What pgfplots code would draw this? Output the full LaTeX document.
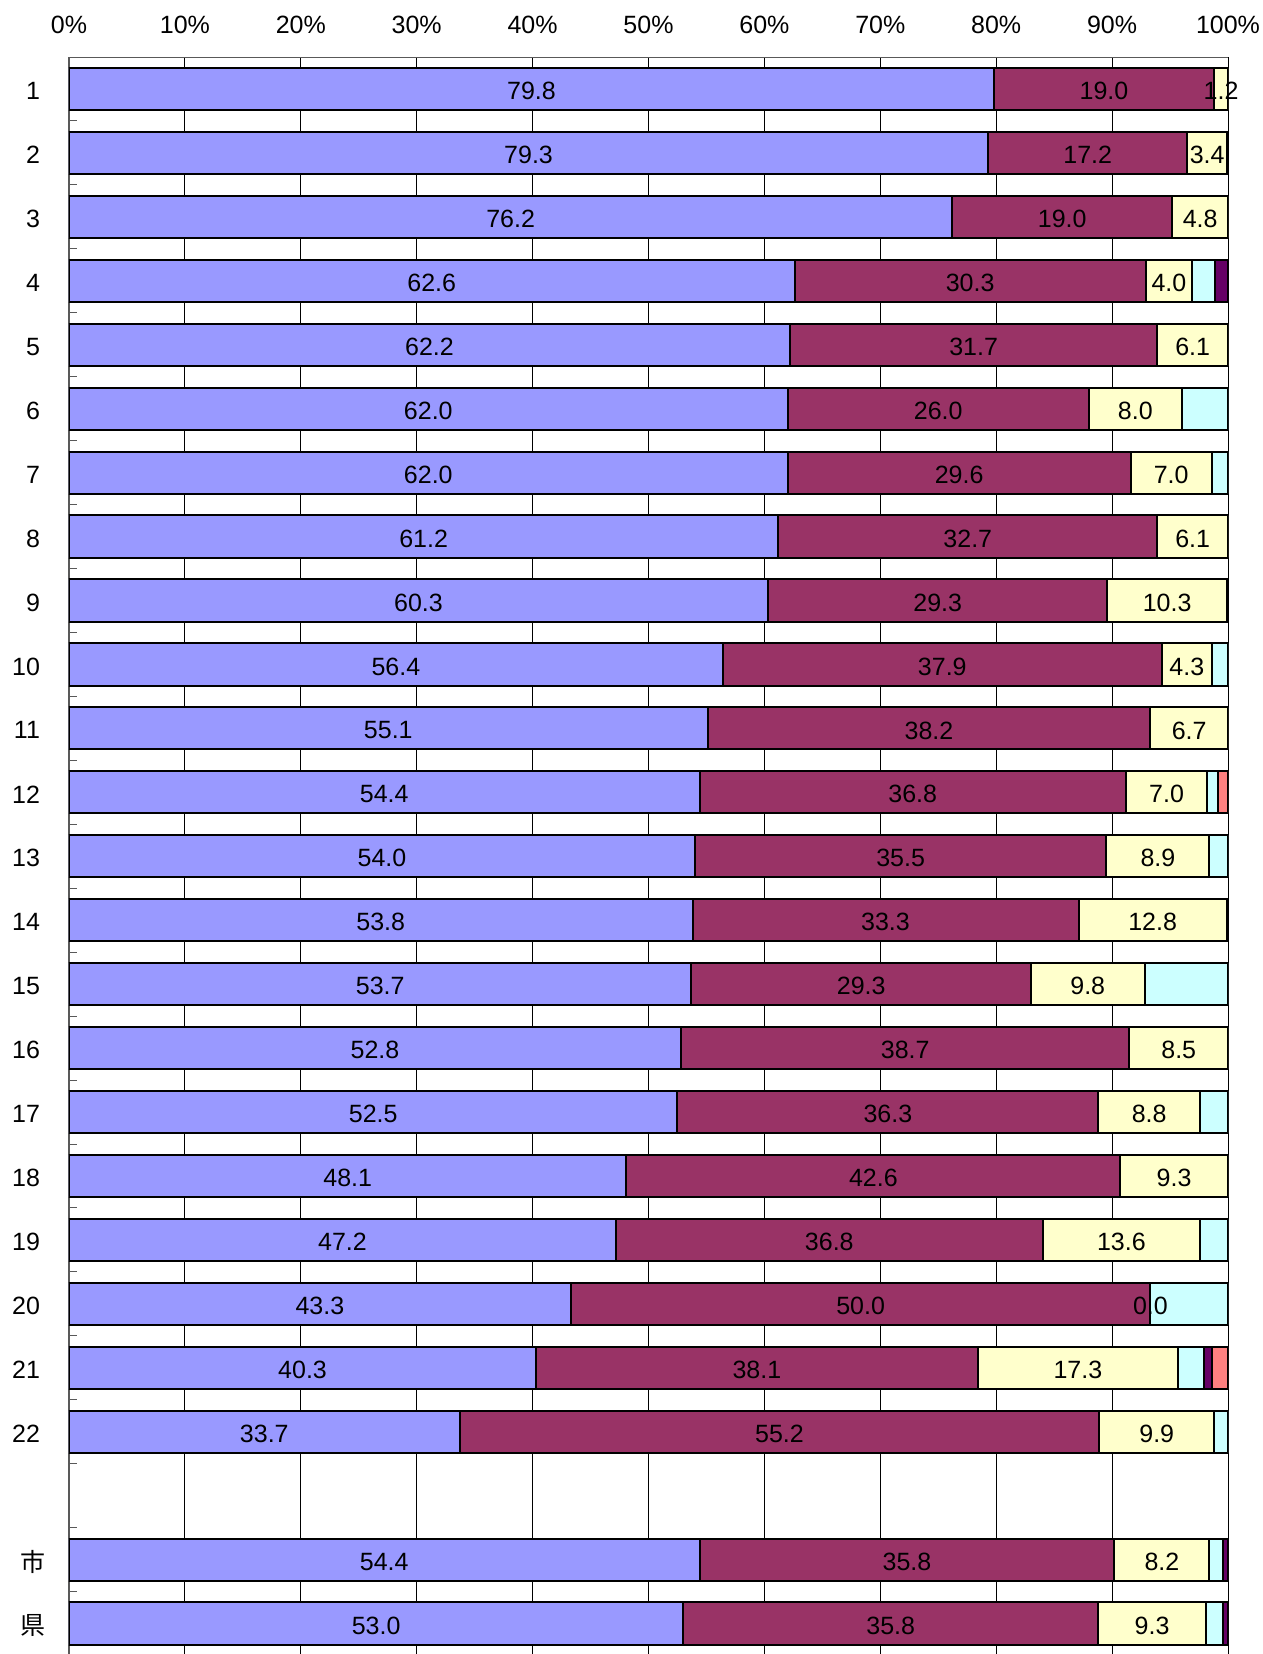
\documentclass[border=0pt]{standalone}
\usepackage{pgfplots}
\usepackage{pgfplotstable}
\usepackage{fontspec}
\pgfplotsset{compat=1.18}
\setmainfont{Liberation Sans}
\newfontfamily\cjk{Noto Sans CJK JP}
\newcommand\lbl{\fontsize{12.5pt}{15pt}\selectfont}

\definecolor{cblue}{HTML}{9999FF}
\definecolor{cmaroon}{HTML}{993366}
\definecolor{cyellow}{HTML}{FFFFCC}
\definecolor{ccyan}{HTML}{CCFFFF}
\definecolor{cpurple}{HTML}{660066}
\definecolor{csalmon}{HTML}{FF8080}

% y = slot (23 is the empty one), a..f = shares in %
\pgfplotstableread{
y  a    b    c    d    e    f
1  79.8 19.0 1.2  0    0    0
2  79.3 17.2 3.4  0    0    0
3  76.2 19.0 4.8  0    0    0
4  62.6 30.3 4.0  2.0  1.1  0
5  62.2 31.7 6.1  0    0    0
6  62.0 26.0 8.0  4.0  0    0
7  62.0 29.6 7.0  1.4  0    0
8  61.2 32.7 6.1  0    0    0
9  60.3 29.3 10.3 0    0    0
10 56.4 37.9 4.3  1.4  0    0
11 55.1 38.2 6.7  0    0    0
12 54.4 36.8 7.0  0.9  0    0.9
13 54.0 35.5 8.9  1.6  0    0
14 53.8 33.3 12.8 0    0    0
15 53.7 29.3 9.8  7.2  0    0
16 52.8 38.7 8.5  0    0    0
17 52.5 36.3 8.8  2.4  0    0
18 48.1 42.6 9.3  0    0    0
19 47.2 36.8 13.6 2.4  0    0
20 43.3 50.0 0.01 6.7  0    0
21 40.3 38.1 17.3 2.2  0.7  1.4
22 33.7 55.2 9.9  1.2  0    0
24 54.4 35.8 8.2  1.2  0.4  0
25 53.0 35.8 9.3  1.5  0.4  0
}\shares

\begin{document}
\begin{tikzpicture}
\useasboundingbox (0,0) rectangle (631.5pt,-827pt);
\begin{axis}[
  at={(34.5pt,-28.5pt)}, anchor=north west,
  scale only axis, width=579.5pt, height=799.25pt,
  xbar stacked, bar width=0.66,
  xmin=0, xmax=100, ymin=0.5, ymax=25.5, y dir=reverse,
  axis x line*=top, axis y line*=left,
  x axis line style={-, gray!70!black, line width=0.5pt},
  y axis line style={-, gray!70!black, line width=1pt},
  xtick={0,10,...,100},
  xticklabel={\pgfmathprintnumber{\tick}\%},
  xticklabel style={font=\lbl, yshift=8pt},
  xmajorgrids, grid style={black, line width=0.5pt},
  major tick length=0pt,
  ytick={1,...,22,24,25},
  yticklabels={1,2,3,4,5,6,7,8,9,10,11,12,13,14,15,16,17,18,19,20,21,22,{\cjk 市\kern-3pt},{\cjk 県\kern-3pt}},
  yticklabel style={font=\lbl, xshift=-11pt, yshift=-1pt},
  minor ytick={1.5,2.5,...,24.5},
  minor tick length=4pt,
  minor tick style={gray!70!black, line width=0.5pt},
  /pgf/number format/assume math mode=true,
  every axis plot/.append style={draw=black, line width=1pt},
  lab/.style={
    point meta=explicit,
    nodes near coords={\pgfmathprintnumber[fixed,zerofill,precision=1]{\pgfplotspointmeta}},
    every node near coord/.append style={anchor=center, font=\lbl, text=black,
      inner sep=0pt, yshift=-1pt},
  },
]
\addplot[fill=cblue, lab] table[x=a, y=y, meta=a] {\shares};
\addplot[fill=cmaroon, lab] table[x=b, y=y, meta=b] {\shares};
\addplot[fill=cyellow, lab] table[x=c, y=y, meta=c] {\shares};
\addplot[fill=ccyan] table[x=d, y=y] {\shares};
\addplot[fill=cpurple] table[x=e, y=y] {\shares};
\addplot[fill=csalmon] table[x=f, y=y] {\shares};
\end{axis}
\end{tikzpicture}
\end{document}
